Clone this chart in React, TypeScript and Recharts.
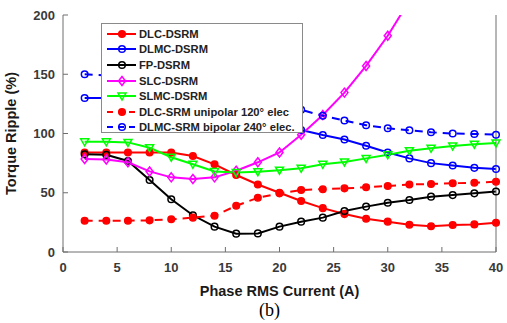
import React from "react";
import { LineChart, Line, XAxis, YAxis, Legend, Label } from "recharts";

const current = [2, 4, 6, 8, 10, 12, 14, 16, 18, 20, 22, 24, 26, 28, 30, 32, 34, 36, 38, 40];
const dlcDsrm = [84, 84, 84, 84, 84, 81, 74, 65, 57, 50, 43, 37, 32, 28, 25.6, 23, 21.7, 22.8, 23.3, 24.7];
const dlmcDsrm = [130, 130, 129, 128, 127, 125, 122, 118, 113, 108, 103, 98.7, 95, 89.7, 84, 79, 75, 73, 71, 70];
const fpDsrm = [82.4, 82, 76.8, 60.8, 44.5, 31, 21.4, 15.5, 15.7, 21.4, 25.6, 29, 34.6, 38.3, 41.6, 43.9, 46.7, 48, 49.5, 51];
const slcDsrm = [78.5, 78, 75.7, 68, 63, 61.6, 63, 68.6, 75.7, 84, 99, 115.6, 134.5, 157, 182.5, 212, null, null, null, null];
const slmcDsrm = [93, 93, 92.5, 88, 80, 74, 68, 67, 67.8, 69, 70.6, 74, 76, 79, 82, 85.5, 87.5, 89.5, 91, 92];
const dlcSrm = [26.4, 26.4, 26.4, 26.7, 27.6, 29, 30.6, 39, 45.8, 49.5, 52.3, 53, 53.7, 54.6, 55.7, 57, 57.4, 58, 58.5, 59.3];
const dlmcSrm = [150, 149, 148, 147, 145, 140, 135, 130, 126, 123, 120, 115, 111, 107, 104.4, 102.7, 101, 100, 99.6, 99];

const xTicks = [0, 5, 10, 15, 20, 25, 30, 35, 40];
const yTicks = [0, 50, 100, 150, 200];

const data = current.map((c, i) => ({
  current: c,
  dlcDsrm: dlcDsrm[i],
  dlmcDsrm: dlmcDsrm[i],
  fpDsrm: fpDsrm[i],
  slcDsrm: slcDsrm[i],
  slmcDsrm: slmcDsrm[i],
  dlcSrm: dlcSrm[i],
  dlmcSrm: dlmcSrm[i],
}));

const series = [
  { key: "dlcDsrm", name: "DLC-DSRM", color: "#ff0000", dashed: false, marker: "circle", filled: true },
  { key: "dlmcDsrm", name: "DLMC-DSRM", color: "#0000ff", dashed: false, marker: "circle", filled: false },
  { key: "fpDsrm", name: "FP-DSRM", color: "#000000", dashed: false, marker: "circle", filled: false },
  { key: "slcDsrm", name: "SLC-DSRM", color: "#ff00ff", dashed: false, marker: "diamond", filled: false },
  { key: "slmcDsrm", name: "SLMC-DSRM", color: "#00ff00", dashed: false, marker: "triangle", filled: false },
  { key: "dlcSrm", name: "DLC-SRM unipolar 120° elec", color: "#ff0000", dashed: true, marker: "circle", filled: true },
  { key: "dlmcSrm", name: "DLMC-SRM bipolar 240° elec.", color: "#0000ff", dashed: true, marker: "circle", filled: false },
];

const font = "'Liberation Sans', Arial, sans-serif";
const axisColor = "#6e6e6e";
const tickColor = "#3a3a3a";

function Marker({ shape, color, filled, cx, cy }: any) {
  const fill = filled ? color : "none";
  if (shape === "diamond") {
    return <polygon points={`${cx},${cy - 4.5} ${cx + 3.5},${cy} ${cx},${cy + 4.5} ${cx - 3.5},${cy}`} fill={fill} stroke={color} strokeWidth={1.5} />;
  }
  if (shape === "triangle") {
    return <polygon points={`${cx - 4},${cy - 3} ${cx + 4},${cy - 3} ${cx},${cy + 4}`} fill={fill} stroke={color} strokeWidth={1.5} />;
  }
  return <circle cx={cx} cy={cy} r={3.3} fill={fill} stroke={color} strokeWidth={1.5} />;
}

function makeDot(s: any) {
  return (props: any) => {
    const { cx, cy, index, value } = props;
    if (cx == null || cy == null || value == null) return <g key={index} />;
    return (
      <g key={index}>
        <Marker shape={s.marker} color={s.color} filled={s.filled} cx={cx} cy={cy} />
      </g>
    );
  };
}

const XTickBottom = (props: any) => {
  const { x, y, payload } = props;
  return (
    <g>
      <line x1={x} x2={x} y1={y} y2={y - 5} stroke={axisColor} />
      <text x={x} y={y + 20} textAnchor="middle" fontSize={13} fontWeight="bold" fill={tickColor} fontFamily={font}>
        {payload.value}
      </text>
    </g>
  );
};

const XTickTop = (props: any) => {
  const { x, y } = props;
  return <line x1={x} x2={x} y1={y} y2={y + 5} stroke={axisColor} />;
};

const YTickLeft = (props: any) => {
  const { x, y, payload } = props;
  return (
    <g>
      <line x1={x} x2={x + 5} y1={y} y2={y} stroke={axisColor} />
      <text x={x - 8} y={y + 4.5} textAnchor="end" fontSize={13} fontWeight="bold" fill={tickColor} fontFamily={font}>
        {payload.value}
      </text>
    </g>
  );
};

const YTickRight = (props: any) => {
  const { x, y } = props;
  return <line x1={x} x2={x - 5} y1={y} y2={y} stroke={axisColor} />;
};

const renderLegend = () => (
  <div
    style={{
      background: "#fff",
      border: "1px solid #8a8a8a",
      width: 202,
      height: 110,
      boxSizing: "border-box",
      paddingTop: 2,
    }}
  >
    {series.map((s) => (
      <div key={s.key} style={{ display: "flex", alignItems: "center", height: 15.6 }}>
        <svg width={37} height={12} style={{ flex: "none" }}>
          <line x1={5} x2={34} y1={6} y2={6} stroke={s.color} strokeWidth={2} strokeDasharray={s.dashed ? "6 5" : undefined} />
          <Marker shape={s.marker} color={s.color} filled={s.filled} cx={20} cy={6} />
        </svg>
        <span
          style={{
            fontFamily: font,
            fontWeight: "bold",
            fontSize: 11.2,
            color: "#222",
            whiteSpace: "nowrap",
          }}
        >
          {s.name}
        </span>
      </div>
    ))}
  </div>
);

export default function App() {
  return (
    <div style={{ position: "absolute", left: 0, top: 0, width: 507, height: 323, background: "#fff" }}>
      <LineChart width={507} height={323} data={data} margin={{ top: 15, right: 0, left: 0, bottom: 0 }}>
        <XAxis
          dataKey="current"
          type="number"
          domain={[0, 40]}
          ticks={xTicks}
          interval={0}
          height={71}
          tickSize={0}
          tickMargin={0}
          tickLine={false}
          stroke={axisColor}
          tick={<XTickBottom />}
        >
          <Label
            content={(p: any) => (
              <text
                x={p.viewBox.x + p.viewBox.width / 2}
                y={p.viewBox.y + 44}
                textAnchor="middle"
                fontSize={14.5}
                fontWeight="bold"
                fill="#1a1a1a"
                fontFamily={font}
              >
                Phase RMS Current (A)
              </text>
            )}
          />
          <Label
            content={(p: any) => (
              <text
                x={p.viewBox.x + p.viewBox.width / 2 - 10}
                y={p.viewBox.y + 64}
                textAnchor="middle"
                fontSize={18}
                fill="#000"
                fontFamily="'Liberation Serif', 'Times New Roman', serif"
              >
                (b)
              </text>
            )}
          />
        </XAxis>
        <XAxis
          xAxisId="top"
          orientation="top"
          dataKey="current"
          type="number"
          domain={[0, 40]}
          ticks={xTicks}
          interval={0}
          height={0}
          tickSize={0}
          tickMargin={0}
          tickLine={false}
          stroke={axisColor}
          tick={<XTickTop />}
        />
        <YAxis
          type="number"
          domain={[0, 200]}
          ticks={yTicks}
          interval={0}
          allowDataOverflow
          width={63}
          tickSize={0}
          tickMargin={0}
          tickLine={false}
          stroke={axisColor}
          tick={<YTickLeft />}
        >
          <Label
            content={(p: any) => (
              <text
                transform={`translate(16, ${p.viewBox.y + p.viewBox.height / 2}) rotate(-90)`}
                textAnchor="middle"
                fontSize={14.5}
                fontWeight="bold"
                fill="#1a1a1a"
                fontFamily={font}
              >
                Torque Ripple (%)
              </text>
            )}
          />
        </YAxis>
        <YAxis
          yAxisId="right"
          orientation="right"
          type="number"
          domain={[0, 200]}
          ticks={yTicks}
          interval={0}
          width={11}
          tickSize={0}
          tickMargin={0}
          tickLine={false}
          stroke={axisColor}
          tick={<YTickRight />}
        />
        {series.map((s) => (
          <Line
            key={s.key}
            type="linear"
            dataKey={s.key}
            name={s.name}
            stroke={s.color}
            strokeWidth={2}
            strokeDasharray={s.dashed ? "8 6" : undefined}
            dot={makeDot(s)}
            activeDot={false}
            isAnimationActive={false}
          />
        ))}
        <Legend
          layout="vertical"
          align="center"
          verticalAlign="middle"
          content={renderLegend}
          wrapperStyle={{ position: "absolute", left: 101, top: 23, width: 202, height: 110 }}
        />
      </LineChart>
    </div>
  );
}
